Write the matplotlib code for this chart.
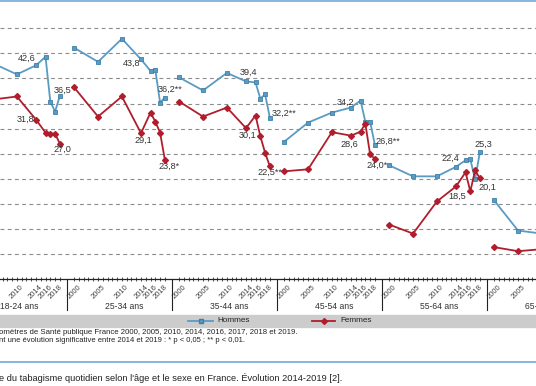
import numpy as np
import matplotlib
matplotlib.use("Agg")
import matplotlib.pyplot as plt
from matplotlib import font_manager
from matplotlib.lines import Line2D
from matplotlib.patches import Rectangle
from matplotlib.transforms import blended_transform_factory

# police étroite si disponible, sinon Liberation Sans à taille réduite
names = {f.name for f in font_manager.fontManager.ttflist}
if "Liberation Sans Narrow" in names:
    FONT, K = "Liberation Sans Narrow", 1 / 0.82
else:
    FONT, K = "Liberation Sans", 1.0
plt.rcParams["font.family"] = [FONT, "DejaVu Sans"]


def fs(s):
    return s * K


# --- données ---
years = [2000, 2005, 2010, 2014, 2016, 2017, 2018, 2019]
tick_years = [2000, 2005, 2010, 2014, 2016, 2018]
groups = ["18-24 ans", "25-34 ans", "35-44 ans", "45-54 ans", "55-64 ans", "65-75 ans"]

h_1824 = [45.0, 43.0, 40.8, 42.6, 44.3, 35.4, 33.4, 36.5]
h_2534 = [46.1, 43.3, 47.9, 43.8, 41.5, 41.7, 35.2, 36.2]
h_3544 = [40.2, 37.6, 41.1, 39.4, 39.2, 36.0, 36.8, 32.2]
h_4554 = [27.4, 31.2, 33.2, 34.2, 35.6, 31.4, 31.4, 26.8]
h_5564 = [22.7, 20.5, 20.5, 22.4, 23.7, 23.9, 19.9, 25.3]
h_6575 = [15.7, 9.7, 9.1]

f_1824 = [39.0, 35.8, 36.4, 31.8, 29.2, 29.0, 29.0, 27.0]
f_2534 = [38.2, 32.4, 36.4, 29.1, 33.2, 31.4, 29.2, 23.8]
f_3544 = [35.4, 32.4, 34.2, 30.1, 32.6, 28.5, 25.2, 22.5]
f_4554 = [21.5, 21.9, 29.3, 28.6, 29.4, 31.0, 24.9, 24.0]
f_5564 = [10.9, 9.1, 15.5, 18.5, 21.3, 17.5, 21.7, 20.1]
f_6575 = [6.4, 5.6, 6.0]

# significativité 2014-2019
h_sig = ["", "**", "**", "**", "", ""]
f_sig = ["", "*", "**", "*", "", ""]

hommes = [h_1824, h_2534, h_3544, h_4554, h_5564, h_6575]
femmes = [f_1824, f_2534, f_3544, f_4554, f_5564, f_6575]

# centre des étiquettes par rapport au point (px, bas positif), 2014 puis 2019
h_off14 = [(-9, -7), (-9, 4), (2, -9), (-5, -5), (-5.5, -8)]
f_off14 = [(-10, 0), (2, 7), (2, 7), (-1.5, 9), (1.5, 10)]
h_off19 = [(3, -6), (5.5, -8), (14, -4), (13, -3), (3.5, -8)]
f_off19 = [(3, 6), (4, 7), (0, 6), (2.5, 7), (8, 9)]

W, H = 536, 386
PXY = 4.773          # px par an
X0 = -38.0           # bord gauche du groupe 18-24 (px)
Y0 = 279.3           # ordonnée px de 0 %
PXV = 5.022          # px par point de %
BLUE = "#5a9bc3"
RED = "#b01e2d"
TXT = "#333333"


def xpos(g, yr):
    return g * 22 + (yr - 1998.5)


def fx(px):
    return px / W


def fy(py):
    return 1 - py / H


fig = plt.figure(figsize=(W / 100, H / 100), dpi=100)
fig.patch.set_facecolor("white")
ax = fig.add_axes([0, fy(Y0), 1, Y0 / H])
for s in ["top", "left", "right"]:
    ax.spines[s].set_visible(False)
ax.spines["bottom"].set_color("#222222")
ax.spines["bottom"].set_linewidth(0.9)

for v in range(5, 55, 5):
    ax.axhline(v, color="#8c8c8c", lw=0.8, dashes=(3.5, 3), zorder=1)

for g in range(len(groups)):
    xs_h = [xpos(g, y) for y in years[:len(hommes[g])]]
    xs_f = [xpos(g, y) for y in years[:len(femmes[g])]]
    ax.plot(xs_h, hommes[g], color=BLUE, lw=1.3, marker="s", ms=3.3,
            mfc=BLUE, mec="#3f7fa8", mew=0.6, zorder=3)
    ax.plot(xs_f, femmes[g], color=RED, lw=1.3, marker="D", ms=3.0,
            mfc=RED, mec=RED, zorder=4)


def lab(v, stars=""):
    return ("%.1f" % v).replace(".", ",") + stars


for g in range(5):
    for series, sig, o14, o19 in [(hommes[g], h_sig, h_off14, h_off19),
                                  (femmes[g], f_sig, f_off14, f_off19)]:
        for i, st, (dx, dy) in [(3, "", o14[g]), (7, sig[g], o19[g])]:
            ax.annotate(lab(series[i], st), (xpos(g, years[i]), series[i]),
                        xytext=(dx, -dy), textcoords="offset pixels",
                        ha="center", va="center", fontsize=fs(6.6),
                        color=TXT, zorder=5)

# axe des x
major = [xpos(g, y) for g in range(len(groups)) for y in tick_years]
minor = [xpos(g, y) for g in range(len(groups)) for y in range(2000, 2020)]
ax.set_xticks(major, [str(y) for g in range(len(groups)) for y in tick_years])
ax.set_xticks(minor, minor=True)
ax.set_yticks([])
ax.set_xlim(-X0 / PXY, (W - X0) / PXY)
ax.set_ylim(0, Y0 / PXV)
ax.tick_params(axis="x", which="both", direction="inout", length=3.5,
               width=0.6, color="#333333", pad=1.5)
for t in ax.get_xticklabels():
    t.set_rotation(45)
    t.set_ha("center")
    t.set_va("top")
    t.set_fontsize(fs(5.5))
    t.set_color("#444444")

tr = blended_transform_factory(ax.transData, ax.transAxes)
for g in range(1, len(groups)):
    ax.plot([g * 22, g * 22], [0, -31 / Y0], transform=tr, color="#222222",
            lw=0.8, clip_on=False)
for g, name in enumerate(groups):
    ax.text(g * 22 + 11.9, -27 / Y0, name, transform=tr, ha="center",
            va="center", fontsize=fs(6.2), color=TXT)

# légende
fig.add_artist(Rectangle((0, fy(327)), 1, 12 / H, transform=fig.transFigure,
                         color="#cccccc", zorder=0))
fig.add_artist(Line2D([fx(188), fx(200.5), fx(213)], [fy(321)] * 3, color=BLUE,
                      lw=1.3, marker="s", ms=3.3, markevery=[1], mec="#3f7fa8"))
fig.text(fx(217), fy(321), "Hommes", ha="left", va="center", fontsize=fs(5.9),
         color="#222222")
fig.add_artist(Line2D([fx(312), fx(323.5), fx(335)], [fy(321)] * 3, color=RED,
                      lw=1.3, marker="D", ms=3.0, markevery=[1]))
fig.text(fx(340), fy(321), "Femmes", ha="left", va="center", fontsize=fs(5.9),
         color="#222222")

# notes
fig.text(fx(-1), fy(333), "omètres de Santé publique France 2000, 2005, 2010, 2014, 2016, 2017, 2018 et 2019.",
         ha="left", va="center", fontsize=fs(5.6), color="#222222")
fig.text(fx(-1), fy(341), "nt une évolution significative entre 2014 et 2019 : * p < 0,05 ; ** p < 0,01.",
         ha="left", va="center", fontsize=fs(5.5), color="#222222")

# filets bleus et légende de figure
fig.add_artist(Line2D([0, 1], [fy(1)] * 2, color="#86b6dd", lw=1.4))
fig.add_artist(Line2D([0, 1], [fy(362)] * 2, color="#86b6dd", lw=1.4))
fig.text(fx(-1), fy(378), "e du tabagisme quotidien selon l'âge et le sexe en France. Évolution 2014-2019 [2].",
         ha="left", va="center", fontsize=fs(6.7), color="#222222")

fig.savefig("out.png", dpi=100, facecolor="white")
